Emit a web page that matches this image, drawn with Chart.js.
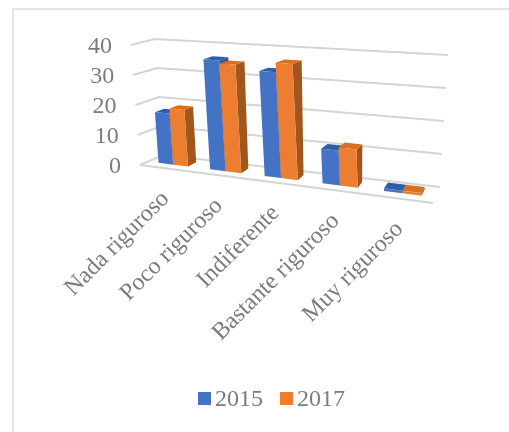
<!DOCTYPE html>
<html>
<head>
<meta charset="utf-8">
<style>
  html, body { margin: 0; padding: 0; background: #fff; }
  #wrap { width: 509px; height: 432px; }
</style>
</head>
<body>
<div id="wrap"><canvas id="barras" width="509" height="432"></canvas></div>
<script src="https://cdn.jsdelivr.net/npm/chart.js@4"></script>
<script>
const categorias = ["Nada riguroso", "Poco riguroso", "Indiferente", "Bastante riguroso", "Muy riguroso"];
const serie2015 = [17, 36, 33.5, 10.7, 0.8];
const serie2017 = [18.7, 35, 36.5, 11.7, 0.8];
const ticksY = [0, 10, 20, 30, 40];

const FONT = '"Liberation Serif"';
const GRIS = "#7c7c7c";
const caras = {
  "2015": { frente: "#4472c4", arriba: "#2f5ea8", lado: "#2f5597" },
  "2017": { frente: "#ed7d31", arriba: "#d9701f", lado: "#a0561c" },
};

// esquinas de la caja 3D en pantalla: fondo/frente, abajo/arriba
const caja = {
  fondo: { bi: [163, 155], bd: [440, 187], ai: [155, 39], ad: [448, 55] },
  frente: { bi: [140, 165], bd: [433, 203], ai: [131, 45], ad: [424, 66] },
};
const PERSP = 1.16;
const Z_FRENTE = 0.35, Z_FONDO = 0.74;

function mezcla(a, b, t) {
  return [a[0] + (b[0] - a[0]) * t, a[1] + (b[1] - a[1]) * t];
}

// u: 0-1 a lo ancho, v: 0-1 a lo alto, z: 0 frente, 1 fondo
function proyectar(u, v, z) {
  const t = u / (u + PERSP * (1 - u));
  const cara = (c) => mezcla(mezcla(c.bi, c.bd, t), mezcla(c.ai, c.ad, t), v);
  return mezcla(cara(caja.frente), cara(caja.fondo), z);
}

function poligono(ctx, puntos, color) {
  ctx.beginPath();
  puntos.forEach((p, i) => (i ? ctx.lineTo(p[0], p[1]) : ctx.moveTo(p[0], p[1])));
  ctx.closePath();
  ctx.fillStyle = color;
  ctx.fill();
}

function linea(ctx, puntos) {
  ctx.beginPath();
  puntos.forEach((p, i) => (i ? ctx.lineTo(p[0], p[1]) : ctx.moveTo(p[0], p[1])));
  ctx.stroke();
}

const barras3d = {
  id: "barras3d",
  beforeDatasetsDraw(chart) {
    const { ctx, chartArea: area, scales } = chart;
    const normU = (x) => (x - area.left) / area.width;
    const normV = (y) => (area.bottom - y) / area.height;

    ctx.save();
    // marco
    ctx.strokeStyle = "#e6e6e6";
    ctx.lineWidth = 2;
    linea(ctx, [[13, 432], [13, 9], [509, 9]]);

    // rejilla
    ctx.strokeStyle = "#d4d4d4";
    ctx.lineWidth = 2;
    scales.y.ticks.forEach((tick) => {
      const v = normV(scales.y.getPixelForValue(tick.value));
      linea(ctx, [proyectar(0, v, 0), proyectar(0, v, 1), proyectar(1, v, 1)]);
    });
    linea(ctx, [proyectar(0, 0, 0), proyectar(1, 0, 0)]);

    // barras
    categorias.forEach((_, i) => {
      chart.data.datasets.forEach((ds, d) => {
        const bar = chart.getDatasetMeta(d).data[i];
        const u0 = normU(bar.x - bar.width / 2);
        const u1 = normU(bar.x + bar.width / 2);
        const v0 = normV(bar.base);
        const v1 = normV(bar.y);
        const c = caras[ds.label];
        poligono(ctx, [proyectar(u1, v0, Z_FRENTE), proyectar(u1, v0, Z_FONDO), proyectar(u1, v1, Z_FONDO), proyectar(u1, v1, Z_FRENTE)], c.lado);
        poligono(ctx, [proyectar(u0, v1, Z_FRENTE), proyectar(u1, v1, Z_FRENTE), proyectar(u1, v1, Z_FONDO), proyectar(u0, v1, Z_FONDO)], c.arriba);
        poligono(ctx, [proyectar(u0, v0, Z_FRENTE), proyectar(u1, v0, Z_FRENTE), proyectar(u1, v1, Z_FRENTE), proyectar(u0, v1, Z_FRENTE)], c.frente);
      });
    });

    // eje y
    ctx.fillStyle = GRIS;
    ctx.font = "24px " + FONT;
    ctx.textAlign = "right";
    ctx.textBaseline = "middle";
    scales.y.ticks.forEach((tick) => {
      const p = proyectar(0, normV(scales.y.getPixelForValue(tick.value)), 0);
      ctx.fillText(tick.label, p[0] - 19, p[1] + 2);
    });

    // eje x, etiquetas giradas
    categorias.forEach((nombre, i) => {
      const p = proyectar(normU(scales.x.getPixelForValue(i)), 0, 0);
      ctx.save();
      ctx.translate(p[0], p[1] + 27);
      ctx.rotate(-Math.PI / 4);
      ctx.fillText(nombre, 0, 0);
      ctx.restore();
    });

    // leyenda
    ctx.textAlign = "left";
    ctx.textBaseline = "alphabetic";
    chart.data.datasets.forEach((ds, d) => {
      const x = 198 + d * 82;
      ctx.fillStyle = ds.backgroundColor;
      ctx.fillRect(x, 392, 13, 13);
      ctx.fillStyle = GRIS;
      ctx.fillText(ds.label, x + 17, 406);
    });
    ctx.restore();
    return false;
  },
};

new Chart(document.getElementById("barras"), {
  type: "bar",
  data: {
    labels: categorias,
    datasets: [
      { label: "2015", data: serie2015, backgroundColor: caras["2015"].frente, categoryPercentage: 0.58, barPercentage: 1 },
      { label: "2017", data: serie2017, backgroundColor: caras["2017"].frente, categoryPercentage: 0.58, barPercentage: 1 },
    ],
  },
  options: {
    responsive: false,
    animation: false,
    plugins: {
      legend: { display: false },
      tooltip: { enabled: false },
    },
    scales: {
      x: { display: false },
      y: {
        display: false,
        min: ticksY[0],
        max: ticksY[ticksY.length - 1],
        ticks: { stepSize: 10 },
      },
    },
  },
  plugins: [barras3d],
});
</script>
</body>
</html>
